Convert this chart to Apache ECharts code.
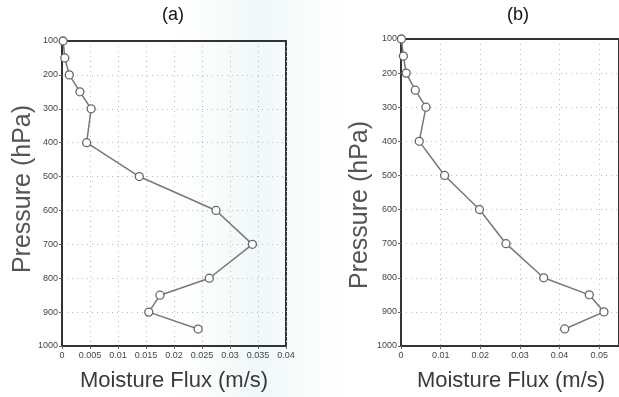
<!DOCTYPE html>
<html>
<head>
<meta charset="utf-8">
<script src="https://cdn.jsdelivr.net/npm/echarts@6/dist/echarts.min.js"></script>
<style>
  html, body { margin: 0; padding: 0; background: #fff; }
  #chart { width: 619px; height: 397px; }
</style>
</head>
<body>
<div id="chart"></div>
<script>
// pressure levels (hPa) and moisture flux (m/s) for each panel
const pressure = [100, 150, 200, 250, 300, 400, 500, 600, 700, 800, 850, 900, 950]
const fluxA = [0.0002, 0.0005, 0.0013, 0.0032, 0.0052, 0.0044, 0.0138, 0.0275, 0.034, 0.0263, 0.0175, 0.0155, 0.0243]
const fluxB = [0.0001, 0.0006, 0.0013, 0.0036, 0.0063, 0.0046, 0.011, 0.0198, 0.0265, 0.036, 0.0475, 0.0512, 0.0413]
const panelTitles = ['(a)', '(b)']
const xTitle = 'Moisture Flux (m/s)'
const yTitle = 'Pressure (hPa)'

const myChart = echarts.init(document.getElementById('chart'))

const font = 'Liberation Sans'
const dotted = { show: true, lineStyle: { color: '#bbb', type: [1, 4], width: 1 } }
const frameLine = { show: true, lineStyle: { color: '#333', width: 2 } }

function xAxisFor(grid, max, interval) {
  return {
    type: 'value',
    gridIndex: grid,
    min: 0,
    max: max,
    interval: interval,
    axisLine: frameLine,
    axisTick: { show: true, length: 3, lineStyle: { color: '#666' } },
    axisLabel: { color: '#444', fontSize: 9, fontFamily: font, margin: 5, showMaxLabel: grid === 0 },
    splitLine: dotted
  }
}

function yAxisFor(grid) {
  return {
    type: 'value',
    gridIndex: grid,
    inverse: true,
    min: 100,
    max: 1000,
    interval: 100,
    axisLine: frameLine,
    axisTick: { show: true, length: 3, lineStyle: { color: '#666' } },
    axisLabel: { color: '#444', fontSize: 9, fontFamily: font, margin: 4, formatter: v => String(v) },
    splitLine: dotted
  }
}

// plain frame axes so the dotted split lines do not cover the box edges
function frameAxis(grid, position, extra) {
  return Object.assign({
    type: 'value', gridIndex: grid, position: position,
    axisLine: frameLine, axisTick: { show: false }, axisLabel: { show: false }, splitLine: { show: false }
  }, extra)
}

function seriesFor(idx, values) {
  return {
    type: 'line',
    xAxisIndex: idx,
    yAxisIndex: idx,
    data: values.map((v, i) => [v, pressure[i]]),
    symbol: 'circle',
    symbolSize: 8,
    showAllSymbol: true,
    lineStyle: { color: '#777', width: 1.5 },
    itemStyle: { color: '#fff', borderColor: '#666', borderWidth: 1.3 },
    z: 3
  }
}

const option = {
  backgroundColor: '#fff',
  animation: false,
  grid: [
    { left: 62, top: 41, width: 224, height: 305, show: true, borderColor: '#333', borderWidth: 2 },
    { left: 401, top: 39, width: 221, height: 307, show: true, borderColor: '#333', borderWidth: 2 }
  ],
  xAxis: [
    xAxisFor(0, 0.04, 0.005),
    xAxisFor(1, 0.055, 0.01),
    frameAxis(0, 'top', { min: 0, max: 0.04 }),
    frameAxis(1, 'top', { min: 0, max: 0.055 })
  ],
  yAxis: [yAxisFor(0), yAxisFor(1), frameAxis(0, 'right', { inverse: true, min: 100, max: 1000 })],
  series: [seriesFor(0, fluxA), seriesFor(1, fluxB)],
  graphic: [
    // faint scan tint behind the right part of panel (a)
    {
      type: 'rect', z: -10, silent: true,
      shape: { x: 180, y: 0, width: 160, height: 397 },
      style: {
        fill: new echarts.graphic.LinearGradient(0, 0, 1, 0, [
          { offset: 0, color: 'rgba(240,248,248,0)' },
          { offset: 0.5, color: 'rgba(240,248,249,1)' },
          { offset: 1, color: 'rgba(240,248,248,0)' }
        ])
      }
    },
    { type: 'text', left: 162, top: 6, style: { text: panelTitles[0], font: '18px ' + font, fill: '#111' } },
    { type: 'text', left: 507, top: 6, style: { text: panelTitles[1], font: '18px ' + font, fill: '#111' } },
    { type: 'text', x: 174, y: 381, style: { text: xTitle, font: '22px ' + font, fill: '#3a3a3a', align: 'center', verticalAlign: 'middle' } },
    { type: 'text', x: 511, y: 381, style: { text: xTitle, font: '22px ' + font, fill: '#3a3a3a', align: 'center', verticalAlign: 'middle' } },
    { type: 'text', x: 11, y: 189, rotation: Math.PI / 2, style: { text: yTitle, font: '25px ' + font, fill: '#555', align: 'center', verticalAlign: 'top' } },
    { type: 'text', x: 348, y: 205, rotation: Math.PI / 2, style: { text: yTitle, font: '25px ' + font, fill: '#555', align: 'center', verticalAlign: 'top' } }
  ]
}

myChart.setOption(option)
</script>
</body>
</html>
